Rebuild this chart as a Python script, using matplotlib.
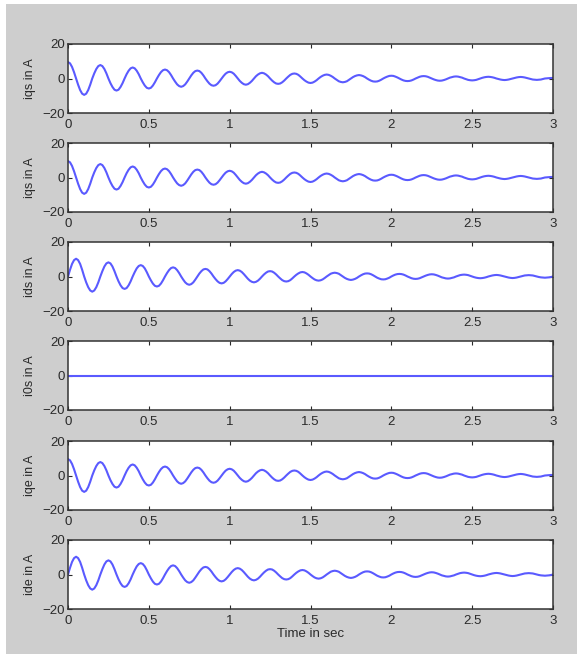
import numpy as np
import matplotlib.pyplot as plt
from matplotlib.patches import Rectangle

plt.rcParams['font.family'] = ['Liberation Sans', 'DejaVu Sans']

# sample times: every 0.0125 s from 0 to 3 s
t = np.linspace(0, 3, 241)

# iqs (A)
iqs = [9.5, 8.8, 6.7, 3.6, 0, -3.6, -6.7, -8.8,
       -9.5, -8.8, -6.7, -3.6, 0, 3.0, 5.5, 7.2,
       7.8, 7.2, 5.5, 3.0, 0, -2.7, -4.9, -6.5,
       -7.0, -6.5, -4.9, -2.7, 0, 2.5, 4.5, 5.9,
       6.4, 5.9, 4.5, 2.5, 0, -2.2, -4.1, -5.4,
       -5.8, -5.4, -4.1, -2.2, 0, 2.0, 3.7, 4.8,
       5.2, 4.8, 3.7, 2.0, 0, -1.8, -3.4, -4.4,
       -4.8, -4.4, -3.4, -1.8, 0, 1.8, 3.3, 4.3,
       4.6, 4.3, 3.3, 1.8, 0, -1.6, -3.0, -3.9,
       -4.2, -3.9, -3.0, -1.6, 0, 1.5, 2.8, 3.6,
       3.9, 3.6, 2.8, 1.5, 0, -1.4, -2.5, -3.3,
       -3.6, -3.3, -2.5, -1.4, 0, 1.3, 2.3, 3.0,
       3.3, 3.0, 2.3, 1.3, 0, -1.2, -2.2, -2.9,
       -3.1, -2.9, -2.2, -1.2, 0, 1.1, 2.1, 2.7,
       2.9, 2.7, 2.1, 1.1, 0, -1.0, -1.8, -2.4,
       -2.6, -2.4, -1.8, -1.0, 0, 0.9, 1.6, 2.1,
       2.3, 2.1, 1.6, 0.9, 0, -0.8, -1.6, -2.0,
       -2.2, -2.0, -1.6, -0.8, 0, 0.8, 1.4, 1.8,
       2.0, 1.8, 1.4, 0.8, 0, -0.7, -1.3, -1.7,
       -1.8, -1.7, -1.3, -0.7, 0, 0.6, 1.1, 1.5,
       1.6, 1.5, 1.1, 0.6, 0, -0.6, -1.1, -1.4,
       -1.5, -1.4, -1.1, -0.6, 0, 0.5, 1.0, 1.3,
       1.4, 1.3, 1.0, 0.5, 0, -0.5, -0.9, -1.2,
       -1.3, -1.2, -0.9, -0.5, 0, 0.5, 0.8, 1.1,
       1.2, 1.1, 0.8, 0.5, 0, -0.4, -0.8, -1.0,
       -1.1, -1.0, -0.8, -0.4, 0, 0.4, 0.7, 0.9,
       1.0, 0.9, 0.7, 0.4, 0, -0.3, -0.6, -0.8,
       -0.9, -0.8, -0.6, -0.3, 0, 0.3, 0.6, 0.8,
       0.9, 0.8, 0.6, 0.3, 0, -0.3, -0.6, -0.7,
       -0.8, -0.7, -0.6, -0.3, 0, 0.1, 0.2, 0.3,
       0.3]

# ids (A)
ids = [0, 3.9, 7.3, 9.5, 10.3, 9.5, 7.3, 3.9,
       0, -3.4, -6.2, -8.1, -8.8, -8.1, -6.2, -3.4,
       0, 3.1, 5.8, 7.6, 8.2, 7.6, 5.8, 3.1,
       0, -2.8, -5.1, -6.7, -7.2, -6.7, -5.1, -2.8,
       0, 2.5, 4.7, 6.1, 6.6, 6.1, 4.7, 2.5,
       0, -2.2, -4.1, -5.4, -5.8, -5.4, -4.1, -2.2,
       0, 2.0, 3.7, 4.9, 5.3, 4.9, 3.7, 2.0,
       0, -1.8, -3.4, -4.4, -4.8, -4.4, -3.4, -1.8,
       0, 1.7, 3.1, 4.1, 4.4, 4.1, 3.1, 1.7,
       0, -1.5, -2.8, -3.7, -4.0, -3.7, -2.8, -1.5,
       0, 1.4, 2.6, 3.4, 3.7, 3.4, 2.6, 1.4,
       0, -1.3, -2.4, -3.1, -3.4, -3.1, -2.4, -1.3,
       0, 1.2, 2.2, 2.9, 3.1, 2.9, 2.2, 1.2,
       0, -1.1, -2.1, -2.7, -2.9, -2.7, -2.1, -1.1,
       0, 1.0, 1.8, 2.4, 2.6, 2.4, 1.8, 1.0,
       0, -0.9, -1.7, -2.2, -2.4, -2.2, -1.7, -0.9,
       0, 0.8, 1.6, 2.0, 2.2, 2.0, 1.6, 0.8,
       0, -0.8, -1.4, -1.8, -2.0, -1.8, -1.4, -0.8,
       0, 0.7, 1.3, 1.7, 1.8, 1.7, 1.3, 0.7,
       0, -0.7, -1.2, -1.6, -1.7, -1.6, -1.2, -0.7,
       0, 0.6, 1.1, 1.4, 1.5, 1.4, 1.1, 0.6,
       0, -0.5, -1.0, -1.3, -1.4, -1.3, -1.0, -0.5,
       0, 0.5, 0.9, 1.2, 1.3, 1.2, 0.9, 0.5,
       0, -0.5, -0.8, -1.1, -1.2, -1.1, -0.8, -0.5,
       0, 0.4, 0.8, 1.0, 1.1, 1.0, 0.8, 0.4,
       0, -0.4, -0.7, -0.9, -1.0, -0.9, -0.7, -0.4,
       0, 0.3, 0.6, 0.8, 0.9, 0.8, 0.6, 0.3,
       0, -0.3, -0.6, -0.8, -0.9, -0.8, -0.6, -0.3,
       0, 0.3, 0.6, 0.7, 0.8, 0.7, 0.6, 0.3,
       0, -0.3, -0.5, -0.6, -0.7, -0.6, -0.5, -0.3,
       0]

i0s = [0] * 241
iqe = list(iqs)
ide = list(ids)

series = [iqs, iqs, ids, i0s, iqe, ide]
ylabels = ['iqs in A', 'iqs in A', 'ids in A', 'i0s in A', 'iqe in A', 'ide in A']
xticks = [0, 0.5, 1, 1.5, 2, 2.5, 3]
xticklabels = ['0', '0.5', '1', '1.5', '2', '2.5', '3']
yticks = [-20, 0, 20]

W, H = 577, 654
fig = plt.figure(figsize=(W / 100, H / 100), dpi=100, facecolor='white')
fig.patches.append(Rectangle((6 / W, 0), 1, 1 - 4 / H, transform=fig.transFigure,
                             facecolor='#cecece', edgecolor='none', zorder=-1))

left, right = 68, 553
bottoms = [113, 212, 311, 410, 510, 609]
height = 69
for i, (y, lab) in enumerate(zip(series, ylabels)):
    b = bottoms[i]
    ax = fig.add_axes([left / W, 1 - b / H, (right - left) / W, height / H])
    ax.plot(t, y, color='#5a5aff', lw=1.5)
    ax.set_xlim(0, 3)
    ax.set_ylim(-20, 20)
    ax.set_xticks(xticks)
    ax.set_xticklabels(xticklabels)
    ax.set_yticks(yticks)
    ax.tick_params(direction='in', length=3, width=0.8, top=True, right=True,
                   labelsize=9.5, colors='#2a2a2a')
    ax.tick_params(axis='x', pad=4)
    ax.tick_params(axis='y', pad=2)
    for s in ax.spines.values():
        s.set_color('#333333')
        s.set_linewidth(1.1)
    ax.set_ylabel(lab, fontsize=9, color='#2a2a2a', labelpad=5)
    if i == len(series) - 1:
        ax.set_xlabel('Time in sec', fontsize=9.5, color='#2a2a2a', labelpad=1)

fig.savefig('out.png', dpi=100, facecolor=fig.get_facecolor())
